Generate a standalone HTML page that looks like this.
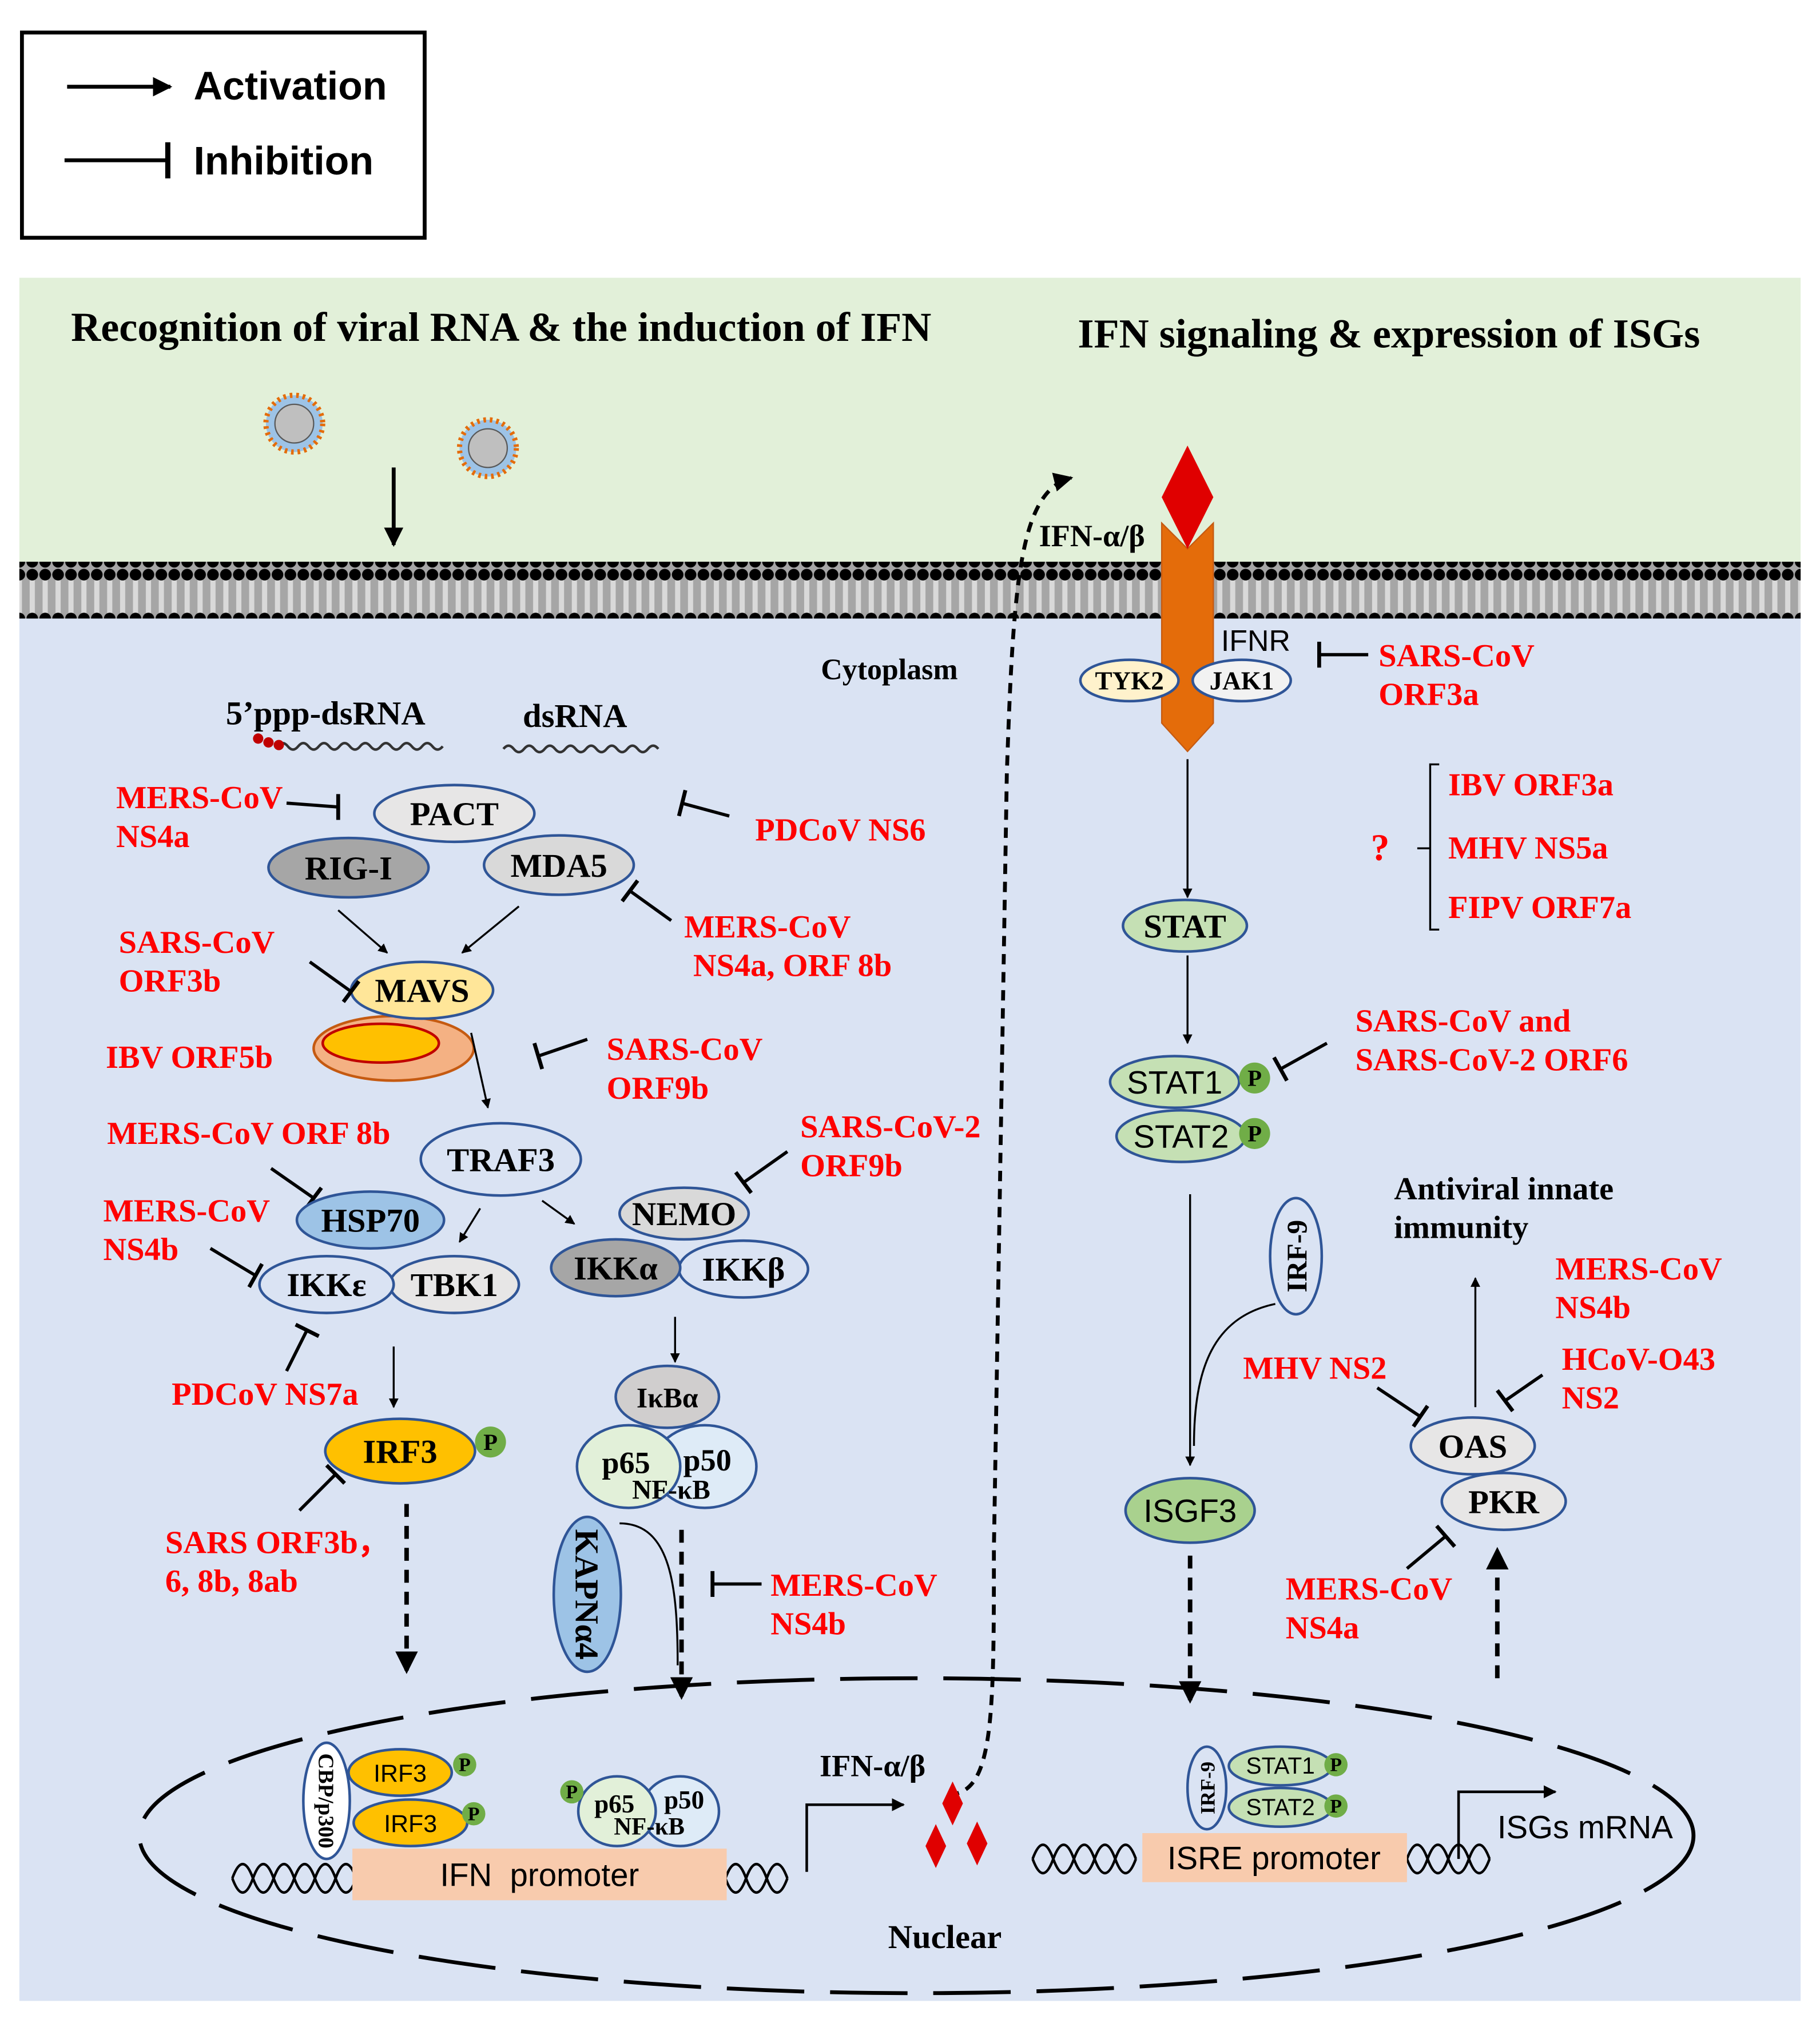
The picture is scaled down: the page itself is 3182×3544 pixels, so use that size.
<!DOCTYPE html>
<html><head><meta charset="utf-8"><style>
html,body{margin:0;padding:0;background:#fff}
svg{display:block}
.s{font-family:"Liberation Serif",serif;font-weight:bold}
.r{fill:#ff0000}
.a{font-family:"Liberation Sans",sans-serif}
</style></head><body>
<svg width="3182" height="3544" viewBox="0 0 1410 1570" xmlns="http://www.w3.org/2000/svg">
<defs>
<marker id="ar" viewBox="0 0 10 10" refX="9" refY="5" markerWidth="5" markerHeight="5" orient="auto"><path d="M0,0L10,5L0,10z" fill="#000"/></marker>
<pattern id="mem" width="10" height="44" patternUnits="userSpaceOnUse">
<rect width="10" height="44" fill="#a6a6a6"/><rect x="3" y="8" width="4" height="28" fill="#d9d9d9"/>
<circle cx="5" cy="5" r="4.5" fill="#000"/><circle cx="5" cy="39" r="4.5" fill="#000"/></pattern>
</defs>
<rect width="1410" height="1570" fill="#fff"/>
<rect x="17" y="25" width="312" height="159" fill="#fff" stroke="#000" stroke-width="3"/>
<line x1="52" y1="67" x2="132" y2="67" stroke="#000" stroke-width="3" marker-end="url(#ar)"/>
<text x="150" y="77" class="a" font-size="31" font-weight="bold">Activation</text>
<line x1="50" y1="124" x2="130" y2="124" stroke="#000" stroke-width="3"/><line x1="130" y1="110" x2="130" y2="138" stroke="#000" stroke-width="4"/>
<text x="150" y="135" class="a" font-size="31" font-weight="bold">Inhibition</text>
<rect x="15" y="215" width="1380" height="225" fill="#e2f0d9"/>
<rect x="15" y="478" width="1380" height="1072" fill="#dae3f3"/>
<rect x="15" y="435" width="1380" height="44" fill="url(#mem)"/>
<text x="55" y="264" class="s" font-size="32">Recognition of viral RNA &amp; the induction of IFN</text>
<text x="835" y="269" class="s" font-size="32">IFN signaling &amp; expression of ISGs</text>
<g><circle cx="228" cy="328" r="22" fill="#9dc3e6" stroke="#e46c0a" stroke-width="4" stroke-dasharray="2 3"/><circle cx="228" cy="328" r="15" fill="#bfbfbf" stroke="#595959"/></g>
<g><circle cx="378" cy="347" r="22" fill="#9dc3e6" stroke="#e46c0a" stroke-width="4" stroke-dasharray="2 3"/><circle cx="378" cy="347" r="15" fill="#bfbfbf" stroke="#595959"/></g>
<line x1="305" y1="362" x2="305" y2="422" stroke="#000" stroke-width="3" marker-end="url(#ar)"/>
<path d="M735,1390 C770,1390 770,1330 770,1200 L780,600 C785,450 790,380 830,370" fill="none" stroke="#000" stroke-width="3" stroke-dasharray="8 6" marker-end="url(#ar)"/>
<text x="805" y="423" class="s" font-size="24">IFN-α/β</text>
<path d="M900,405 L920,425 L940,405 L940,560 L920,582 L900,560 Z" fill="#e46c0a" stroke="#c55a11"/>
<path d="M920,345 L940,385 L920,425 L900,385 Z" fill="#e00000"/>
<text x="946" y="504" class="a" font-size="23">IFNR</text>
<ellipse cx="875" cy="527" rx="38" ry="16" fill="#fff2cc" stroke="#2f5597" stroke-width="2"/><text x="875" y="534" class="s" font-size="20" text-anchor="middle">TYK2</text>
<ellipse cx="962" cy="527" rx="38" ry="16" fill="#f2f2f2" stroke="#2f5597" stroke-width="2"/><text x="962" y="534" class="s" font-size="20" text-anchor="middle">JAK1</text>
<line x1="1022" y1="507" x2="1060" y2="507" stroke="#000" stroke-width="2.5"/><line x1="1022" y1="497" x2="1022" y2="517" stroke="#000" stroke-width="3"/>
<text x="1068" y="516" class="s r" font-size="25">SARS-CoV</text><text x="1068" y="546" class="s r" font-size="25">ORF3a</text>
<text x="636" y="526" class="s" font-size="23">Cytoplasm</text>
<text x="175" y="561" class="s" font-size="26">5’ppp-dsRNA</text>
<text x="405" y="563" class="s" font-size="26">dsRNA</text>
<path d="M215,578 q4,-5 8,0 t8,0 t8,0 t8,0 t8,0 t8,0 t8,0 t8,0 t8,0 t8,0 t8,0 t8,0 t8,0 t8,0 t8,0 t8,0" fill="none" stroke="#333" stroke-width="2"/>
<circle cx="200" cy="572" r="4" fill="#c00000"/><circle cx="208" cy="575" r="4" fill="#c00000"/><circle cx="216" cy="577" r="4" fill="#c00000"/>
<path d="M390,580 q4,-5 8,0 t8,0 t8,0 t8,0 t8,0 t8,0 t8,0 t8,0 t8,0 t8,0 t8,0 t8,0 t8,0 t8,0 t8,0" fill="none" stroke="#333" stroke-width="2"/>
<ellipse cx="352" cy="630" rx="62" ry="22" fill="#e7e6e6" stroke="#2f5597" stroke-width="2"/><text x="352" y="639" class="s" font-size="26" text-anchor="middle">PACT</text>
<ellipse cx="270" cy="672" rx="62" ry="23" fill="#a6a6a6" stroke="#2f5597" stroke-width="2"/><text x="270" y="681" class="s" font-size="26" text-anchor="middle">RIG-I</text>
<ellipse cx="433" cy="670" rx="58" ry="23" fill="#d9d9d9" stroke="#2f5597" stroke-width="2"/><text x="433" y="679" class="s" font-size="26" text-anchor="middle">MDA5</text>
<text x="90" y="626" class="s r" font-size="25">MERS-CoV</text><text x="90" y="656" class="s r" font-size="25">NS4a</text>
<line x1="222" y1="622" x2="262" y2="625" stroke="#000" stroke-width="2.5"/><line x1="262" y1="615" x2="262" y2="635" stroke="#000" stroke-width="3"/>
<text x="585" y="651" class="s r" font-size="25">PDCoV NS6</text>
<line x1="565" y1="632" x2="528" y2="622" stroke="#000" stroke-width="2.5"/><line x1="531" y1="612" x2="526" y2="632" stroke="#000" stroke-width="3"/>
<text x="530" y="726" class="s r" font-size="25">MERS-CoV</text><text x="537" y="756" class="s r" font-size="25">NS4a, ORF 8b</text>
<line x1="520" y1="713" x2="488" y2="690" stroke="#000" stroke-width="2.5"/><line x1="482" y1="698" x2="494" y2="682" stroke="#000" stroke-width="3"/>
<line x1="262" y1="705" x2="300" y2="738" stroke="#000" stroke-width="1.5" marker-end="url(#ar)"/>
<line x1="402" y1="702" x2="358" y2="738" stroke="#000" stroke-width="1.5" marker-end="url(#ar)"/>
<ellipse cx="305" cy="812" rx="62" ry="25" fill="#f4b183" stroke="#c55a11" stroke-width="2"/><ellipse cx="295" cy="808" rx="45" ry="15" fill="#ffc000" stroke="#c00000" stroke-width="2"/>
<ellipse cx="327" cy="767" rx="55" ry="22" fill="#ffe699" stroke="#2f5597" stroke-width="2"/><text x="327" y="776" class="s" font-size="26" text-anchor="middle">MAVS</text>
<text x="92" y="738" class="s r" font-size="25">SARS-CoV</text><text x="92" y="768" class="s r" font-size="25">ORF3b</text>
<line x1="240" y1="745" x2="272" y2="768" stroke="#000" stroke-width="2.5"/><line x1="266" y1="776" x2="278" y2="760" stroke="#000" stroke-width="3"/>
<text x="82" y="827" class="s r" font-size="25">IBV ORF5b</text>
<text x="470" y="821" class="s r" font-size="25">SARS-CoV</text><text x="470" y="851" class="s r" font-size="25">ORF9b</text>
<line x1="455" y1="805" x2="417" y2="818" stroke="#000" stroke-width="2.5"/><line x1="414" y1="808" x2="420" y2="828" stroke="#000" stroke-width="3"/>
<line x1="365" y1="800" x2="378" y2="858" stroke="#000" stroke-width="1.5" marker-end="url(#ar)"/>
<ellipse cx="388" cy="898" rx="62" ry="28" fill="#dae3f3" stroke="#2f5597" stroke-width="2"/><text x="388" y="907" class="s" font-size="26" text-anchor="middle">TRAF3</text>
<text x="83" y="886" class="s r" font-size="25">MERS-CoV ORF 8b</text>
<line x1="210" y1="905" x2="243" y2="928" stroke="#000" stroke-width="2.5"/><line x1="237" y1="936" x2="249" y2="920" stroke="#000" stroke-width="3"/>
<ellipse cx="287" cy="945" rx="57" ry="22" fill="#9dc3e6" stroke="#2f5597" stroke-width="2"/><text x="287" y="954" class="s" font-size="26" text-anchor="middle">HSP70</text>
<text x="80" y="946" class="s r" font-size="25">MERS-CoV</text><text x="80" y="976" class="s r" font-size="25">NS4b</text>
<line x1="163" y1="967" x2="198" y2="988" stroke="#000" stroke-width="2.5"/><line x1="193" y1="997" x2="203" y2="979" stroke="#000" stroke-width="3"/>
<ellipse cx="352" cy="995" rx="50" ry="22" fill="#e7e6e6" stroke="#2f5597" stroke-width="2"/><text x="352" y="1004" class="s" font-size="26" text-anchor="middle">TBK1</text>
<ellipse cx="253" cy="995" rx="52" ry="22" fill="#dae3f3" stroke="#2f5597" stroke-width="2"/><text x="253" y="1004" class="s" font-size="26" text-anchor="middle">IKKε</text>
<line x1="372" y1="936" x2="356" y2="962" stroke="#000" stroke-width="1.5" marker-end="url(#ar)"/>
<line x1="420" y1="930" x2="445" y2="948" stroke="#000" stroke-width="1.5" marker-end="url(#ar)"/>
<text x="620" y="881" class="s r" font-size="25">SARS-CoV-2</text><text x="620" y="911" class="s r" font-size="25">ORF9b</text>
<line x1="610" y1="892" x2="576" y2="916" stroke="#000" stroke-width="2.5"/><line x1="570" y1="908" x2="582" y2="924" stroke="#000" stroke-width="3"/>
<ellipse cx="530" cy="940" rx="50" ry="20" fill="#d9d9d9" stroke="#2f5597" stroke-width="2"/><text x="530" y="949" class="s" font-size="26" text-anchor="middle">NEMO</text>
<ellipse cx="576" cy="983" rx="50" ry="22" fill="#dae3f3" stroke="#2f5597" stroke-width="2"/><text x="576" y="992" class="s" font-size="26" text-anchor="middle">IKKβ</text>
<ellipse cx="477" cy="982" rx="50" ry="22" fill="#a6a6a6" stroke="#2f5597" stroke-width="2"/><text x="477" y="991" class="s" font-size="26" text-anchor="middle">IKKα</text>
<text x="133" y="1088" class="s r" font-size="25">PDCoV NS7a</text>
<line x1="222" y1="1062" x2="238" y2="1030" stroke="#000" stroke-width="2.5"/><line x1="229" y1="1026" x2="247" y2="1035" stroke="#000" stroke-width="3"/>
<line x1="305" y1="1043" x2="305" y2="1090" stroke="#000" stroke-width="1.5" marker-end="url(#ar)"/>
<ellipse cx="310" cy="1124" rx="58" ry="25" fill="#ffc000" stroke="#2f5597" stroke-width="2"/><text x="310" y="1133" class="s" font-size="26" text-anchor="middle">IRF3</text>
<circle cx="380" cy="1117" r="12" fill="#70ad47"/><text x="380" y="1123" class="s" font-size="18" text-anchor="middle">P</text>
<text x="128" y="1203" class="s r" font-size="25">SARS ORF3b，</text><text x="128" y="1233" class="s r" font-size="25">6, 8b, 8ab</text>
<line x1="232" y1="1170" x2="260" y2="1142" stroke="#000" stroke-width="2.5"/><line x1="253" y1="1135" x2="267" y2="1149" stroke="#000" stroke-width="3"/>
<line x1="315" y1="1165" x2="315" y2="1295" stroke="#000" stroke-width="3.5" stroke-dasharray="10 7" marker-end="url(#ar)"/>
<line x1="523" y1="1020" x2="523" y2="1055" stroke="#000" stroke-width="1.5" marker-end="url(#ar)"/>
<ellipse cx="546" cy="1136" rx="40" ry="32" fill="#deebf7" stroke="#2f5597" stroke-width="2"/>
<ellipse cx="487" cy="1136" rx="40" ry="32" fill="#e2f0d9" stroke="#2f5597" stroke-width="2"/>
<ellipse cx="517" cy="1082" rx="40" ry="24" fill="#d0cece" stroke="#2f5597" stroke-width="2"/><text x="517" y="1090" class="s" font-size="22" text-anchor="middle">IκBα</text>
<text x="485" y="1141" class="s" font-size="24" text-anchor="middle">p65</text><text x="548" y="1139" class="s" font-size="24" text-anchor="middle">p50</text>
<text x="520" y="1161" class="s" font-size="21" text-anchor="middle">NF-κB</text>
<ellipse cx="455" cy="1235" rx="26" ry="60" fill="#9dc3e6" stroke="#2f5597" stroke-width="2"/>
<text x="0" y="0" class="s" font-size="26" text-anchor="middle" transform="translate(446,1235) rotate(90)">KAPNα4</text>
<path d="M480,1180 C520,1180 525,1230 525,1290" fill="none" stroke="#000" stroke-width="1.5"/>
<line x1="528" y1="1185" x2="528" y2="1315" stroke="#000" stroke-width="3.5" stroke-dasharray="10 7" marker-end="url(#ar)"/>
<text x="597" y="1236" class="s r" font-size="25">MERS-CoV</text><text x="597" y="1266" class="s r" font-size="25">NS4b</text>
<line x1="590" y1="1227" x2="552" y2="1227" stroke="#000" stroke-width="2.5"/><line x1="552" y1="1217" x2="552" y2="1237" stroke="#000" stroke-width="3"/>
<line x1="920" y1="588" x2="920" y2="695" stroke="#000" stroke-width="1.5" marker-end="url(#ar)"/>
<ellipse cx="918" cy="717" rx="48" ry="20" fill="#c5e0b4" stroke="#2f5597" stroke-width="2"/><text x="918" y="726" class="s" font-size="26" text-anchor="middle">STAT</text>
<path d="M1115,592 L1108,592 L1108,720 L1115,720 M1098,657 L1108,657" fill="none" stroke="#000" stroke-width="1.5"/>
<text x="1062" y="666" class="s r" font-size="29">?</text>
<text x="1122" y="616" class="s r" font-size="25">IBV ORF3a</text><text x="1122" y="665" class="s r" font-size="25">MHV NS5a</text><text x="1122" y="711" class="s r" font-size="25">FIPV ORF7a</text>
<line x1="920" y1="740" x2="920" y2="808" stroke="#000" stroke-width="1.5" marker-end="url(#ar)"/>
<ellipse cx="910" cy="838" rx="50" ry="20" fill="#c5e0b4" stroke="#2f5597" stroke-width="2"/><text x="910" y="847" class="a" font-size="25" text-anchor="middle">STAT1</text>
<circle cx="972" cy="835" r="12" fill="#70ad47"/><text x="972" y="841" class="s" font-size="18" text-anchor="middle">P</text>
<ellipse cx="915" cy="880" rx="50" ry="20" fill="#c5e0b4" stroke="#2f5597" stroke-width="2"/><text x="915" y="889" class="a" font-size="25" text-anchor="middle">STAT2</text>
<circle cx="972" cy="878" r="12" fill="#70ad47"/><text x="972" y="884" class="s" font-size="18" text-anchor="middle">P</text>
<text x="1050" y="799" class="s r" font-size="25">SARS-CoV and</text><text x="1050" y="829" class="s r" font-size="25">SARS-CoV-2 ORF6</text>
<line x1="1028" y1="808" x2="992" y2="828" stroke="#000" stroke-width="2.5"/><line x1="987" y1="819" x2="997" y2="837" stroke="#000" stroke-width="3"/>
<text x="1080" y="929" class="s" font-size="25">Antiviral innate</text><text x="1080" y="959" class="s" font-size="25">immunity</text>
<line x1="1143" y1="1090" x2="1143" y2="990" stroke="#000" stroke-width="1.5" marker-end="url(#ar)"/>
<text x="1205" y="991" class="s r" font-size="25">MERS-CoV</text><text x="1205" y="1021" class="s r" font-size="25">NS4b</text>
<ellipse cx="1004" cy="973" rx="20" ry="45" fill="#dae3f3" stroke="#2f5597" stroke-width="2"/>
<text x="0" y="0" class="s" font-size="22" text-anchor="middle" transform="translate(1012,973) rotate(-90)">IRF-9</text>
<line x1="922" y1="925" x2="922" y2="1135" stroke="#000" stroke-width="1.5" marker-end="url(#ar)"/>
<path d="M988,1010 C940,1020 925,1060 925,1120" fill="none" stroke="#000" stroke-width="1.5"/>
<ellipse cx="922" cy="1170" rx="50" ry="25" fill="#a9d18e" stroke="#2f5597" stroke-width="2"/><text x="922" y="1179" class="a" font-size="25" text-anchor="middle">ISGF3</text>
<line x1="922" y1="1205" x2="922" y2="1318" stroke="#000" stroke-width="3.5" stroke-dasharray="10 7" marker-end="url(#ar)"/>
<text x="963" y="1068" class="s r" font-size="25">MHV NS2</text>
<line x1="1067" y1="1075" x2="1100" y2="1097" stroke="#000" stroke-width="2.5"/><line x1="1095" y1="1105" x2="1106" y2="1089" stroke="#000" stroke-width="3"/>
<text x="1210" y="1061" class="s r" font-size="25">HCoV-O43</text><text x="1210" y="1091" class="s r" font-size="25">NS2</text>
<line x1="1195" y1="1065" x2="1166" y2="1085" stroke="#000" stroke-width="2.5"/><line x1="1160" y1="1077" x2="1172" y2="1093" stroke="#000" stroke-width="3"/>
<ellipse cx="1141" cy="1120" rx="48" ry="22" fill="#e7e6e6" stroke="#2f5597" stroke-width="2"/><text x="1141" y="1129" class="s" font-size="26" text-anchor="middle">OAS</text>
<ellipse cx="1165" cy="1163" rx="48" ry="22" fill="#e7e6e6" stroke="#2f5597" stroke-width="2"/><text x="1165" y="1172" class="s" font-size="26" text-anchor="middle">PKR</text>
<text x="996" y="1239" class="s r" font-size="25">MERS-CoV</text><text x="996" y="1269" class="s r" font-size="25">NS4a</text>
<line x1="1090" y1="1215" x2="1120" y2="1190" stroke="#000" stroke-width="2.5"/><line x1="1113" y1="1182" x2="1127" y2="1198" stroke="#000" stroke-width="3"/>
<line x1="1160" y1="1300" x2="1160" y2="1200" stroke="#000" stroke-width="3.5" stroke-dasharray="10 7" marker-end="url(#ar)"/>
<ellipse cx="710" cy="1422" rx="602" ry="122" fill="none" stroke="#000" stroke-width="3" stroke-dasharray="60 20"/>
<g fill="none" stroke="#000" stroke-width="2">
<path d="M180,1455 q8,-22 16,0 t16,0 t16,0 t16,0 t16,0 t16,0 M180,1455 q8,22 16,0 t16,0 t16,0 t16,0 t16,0 t16,0"/>
<path d="M562,1455 q8,-22 16,0 t16,0 t16,0 M562,1455 q8,22 16,0 t16,0 t16,0"/>
<path d="M800,1440 q8,-22 16,0 t16,0 t16,0 t16,0 t16,0 M800,1440 q8,22 16,0 t16,0 t16,0 t16,0 t16,0"/>
<path d="M1090,1440 q8,-22 16,0 t16,0 t16,0 t16,0 M1090,1440 q8,22 16,0 t16,0 t16,0 t16,0"/>
</g>
<rect x="273" y="1432" width="290" height="40" fill="#f8cbad"/><text x="418" y="1461" class="a" font-size="25" text-anchor="middle" xml:space="preserve">IFN  promoter</text>
<ellipse cx="253" cy="1395" rx="18" ry="45" fill="#fff" stroke="#2f5597" stroke-width="2"/>
<text x="0" y="0" class="s" font-size="17" text-anchor="middle" transform="translate(247,1395) rotate(90)">CBP/p300</text>
<ellipse cx="310" cy="1373" rx="40" ry="18" fill="#ffc000" stroke="#2f5597" stroke-width="2"/><text x="310" y="1380" class="a" font-size="19" text-anchor="middle">IRF3</text>
<ellipse cx="318" cy="1412" rx="44" ry="18" fill="#ffc000" stroke="#2f5597" stroke-width="2"/><text x="318" y="1419" class="a" font-size="19" text-anchor="middle">IRF3</text>
<circle cx="360" cy="1367" r="9" fill="#70ad47"/><text x="360" y="1372" class="s" font-size="15" text-anchor="middle">P</text>
<circle cx="367" cy="1405" r="9" fill="#70ad47"/><text x="367" y="1410" class="s" font-size="15" text-anchor="middle">P</text>
<ellipse cx="527" cy="1403" rx="30" ry="27" fill="#deebf7" stroke="#2f5597" stroke-width="2"/>
<ellipse cx="478" cy="1403" rx="30" ry="27" fill="#e2f0d9" stroke="#2f5597" stroke-width="2"/>
<text x="476" y="1404" class="s" font-size="20" text-anchor="middle">p65</text><text x="530" y="1401" class="s" font-size="20" text-anchor="middle">p50</text>
<text x="503" y="1421" class="s" font-size="19" text-anchor="middle">NF-κB</text>
<circle cx="443" cy="1388" r="9" fill="#70ad47"/><text x="443" y="1393" class="s" font-size="15" text-anchor="middle">P</text>
<polyline points="625,1450 625,1398 700,1398" fill="none" stroke="#000" stroke-width="2" marker-end="url(#ar)"/>
<text x="635" y="1376" class="s" font-size="24">IFN-α/β</text>
<path d="M738,1380 L746,1397 L738,1414 L730,1397Z M725,1413 L733,1430 L725,1447 L717,1430Z M757,1411 L765,1428 L757,1445 L749,1428Z" fill="#e00000"/>
<rect x="885" y="1420" width="205" height="38" fill="#f8cbad"/><text x="987" y="1448" class="a" font-size="25" text-anchor="middle">ISRE promoter</text>
<ellipse cx="935" cy="1385" rx="15" ry="32" fill="#dae3f3" stroke="#2f5597" stroke-width="2"/>
<text x="0" y="0" class="s" font-size="16" text-anchor="middle" transform="translate(941,1385) rotate(-90)">IRF-9</text>
<ellipse cx="992" cy="1368" rx="40" ry="15" fill="#c5e0b4" stroke="#2f5597" stroke-width="2"/><text x="992" y="1374" class="a" font-size="18" text-anchor="middle">STAT1</text>
<ellipse cx="992" cy="1400" rx="40" ry="15" fill="#c5e0b4" stroke="#2f5597" stroke-width="2"/><text x="992" y="1406" class="a" font-size="18" text-anchor="middle">STAT2</text>
<circle cx="1035" cy="1367" r="9" fill="#70ad47"/><text x="1035" y="1372" class="s" font-size="15" text-anchor="middle">P</text>
<circle cx="1035" cy="1399" r="9" fill="#70ad47"/><text x="1035" y="1404" class="s" font-size="15" text-anchor="middle">P</text>
<polyline points="1130,1440 1130,1388 1205,1388" fill="none" stroke="#000" stroke-width="2" marker-end="url(#ar)"/>
<text x="1160" y="1424" class="a" font-size="25">ISGs mRNA</text>
<text x="688" y="1509" class="s" font-size="26">Nuclear</text>
</svg>
</body></html>
